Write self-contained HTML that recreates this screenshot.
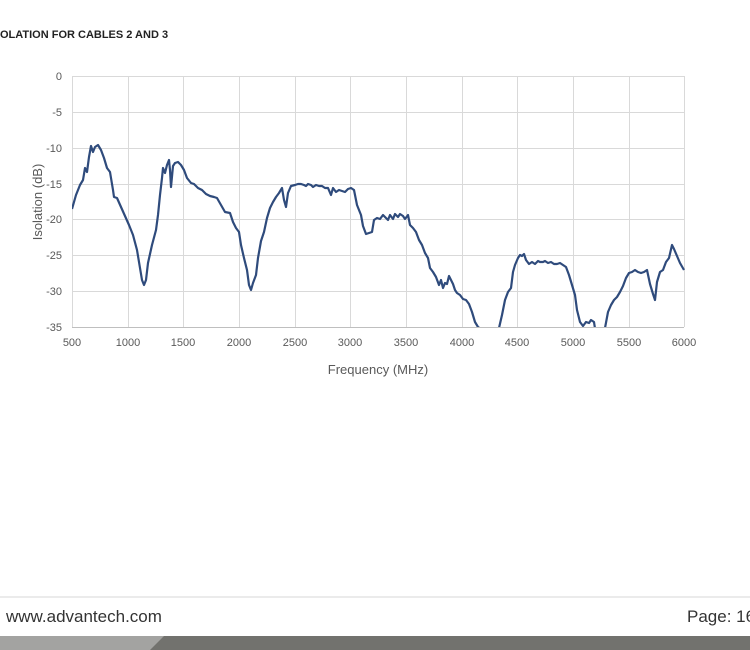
<!DOCTYPE html>
<html><head><style>
body{margin:0;width:750px;height:650px;background:#fff;overflow:hidden;position:relative;font-family:"Liberation Sans",sans-serif}
</style></head><body>
<div style="position:absolute;left:0;top:29px;font-size:11px;font-weight:bold;color:#222;">OLATION FOR CABLES 2 AND 3</div>
<svg width="750" height="600" style="position:absolute;left:0;top:0" font-family="Liberation Sans, sans-serif">
<defs><clipPath id="c"><rect x="72" y="60" width="613" height="267"/></clipPath></defs>
<g stroke="#d9d9d9" stroke-width="1">
<line x1="72" y1="76.5" x2="684" y2="76.5"/><line x1="72" y1="112.5" x2="684" y2="112.5"/><line x1="72" y1="148.5" x2="684" y2="148.5"/><line x1="72" y1="184.5" x2="684" y2="184.5"/><line x1="72" y1="219.5" x2="684" y2="219.5"/><line x1="72" y1="255.5" x2="684" y2="255.5"/><line x1="72" y1="291.5" x2="684" y2="291.5"/>
<line x1="72.5" y1="76" x2="72.5" y2="327"/><line x1="128.5" y1="76" x2="128.5" y2="327"/><line x1="183.5" y1="76" x2="183.5" y2="327"/><line x1="239.5" y1="76" x2="239.5" y2="327"/><line x1="295.5" y1="76" x2="295.5" y2="327"/><line x1="350.5" y1="76" x2="350.5" y2="327"/><line x1="406.5" y1="76" x2="406.5" y2="327"/><line x1="462.5" y1="76" x2="462.5" y2="327"/><line x1="517.5" y1="76" x2="517.5" y2="327"/><line x1="573.5" y1="76" x2="573.5" y2="327"/><line x1="629.5" y1="76" x2="629.5" y2="327"/><line x1="684.5" y1="76" x2="684.5" y2="327"/>
</g>
<line x1="72" y1="327.5" x2="684" y2="327.5" stroke="#bfbfbf"/>
<g font-size="11" fill="#595959" text-anchor="end">
<text x="62" y="80">0</text><text x="62" y="116">-5</text><text x="62" y="152">-10</text><text x="62" y="188">-15</text><text x="62" y="223">-20</text><text x="62" y="259">-25</text><text x="62" y="295">-30</text><text x="62" y="331">-35</text>
</g>
<g font-size="11" fill="#595959" text-anchor="middle">
<text x="72" y="346">500</text><text x="128" y="346">1000</text><text x="183" y="346">1500</text><text x="239" y="346">2000</text><text x="295" y="346">2500</text><text x="350" y="346">3000</text><text x="406" y="346">3500</text><text x="462" y="346">4000</text><text x="517" y="346">4500</text><text x="573" y="346">5000</text><text x="629" y="346">5500</text><text x="684" y="346">6000</text>
</g>
<text x="378" y="374" font-size="13" fill="#595959" text-anchor="middle">Frequency (MHz)</text>
<text transform="translate(42,202) rotate(-90)" font-size="13" fill="#595959" text-anchor="middle">Isolation (dB)</text>
<g clip-path="url(#c)" fill="none" stroke="#2f4b7c" stroke-width="2.2" stroke-linejoin="round">
<polyline points="72,209 76,195 80,185 83,180 85,168 87,172 89,157 91,146 93,152 95,147 98,145 101,150 104,158 107,168 110,172 113,190 114,197 117,198 121,207 125,216 129,225 133,235 137,250 140,268 142,280 144,285 146,280 148,263 152,245 156,230 158,215 160,195 162,178 163,168 165,173 167,165 169,160 170,170 171,187 173,166 175,163 178,162 181,165 184,170 187,178 191,183 194,184 198,188 202,190 206,194 210,196 214,197 217,198 221,205 225,212 230,213 233,222 236,228 239,232 241,245 244,258 247,270 249,285 251,290 253,283 256,275 258,258 261,241 264,232 267,218 270,208 273,202 276,197 279,193 282,188 284,200 286,207 288,193 291,186 295,185 298,184 301,184 304,185 306,186 308,184 311,185 313,187 316,185 319,186 322,186 325,188 328,188 331,195 333,188 336,192 339,190 342,191 345,192 348,189 351,188 354,190 357,205 361,215 363,226 366,234 369,233 372,232 374,220 377,218 380,219 383,215 386,218 388,220 390,215 393,219 395,214 398,217 400,214 403,216 405,219 408,215 410,225 413,228 416,232 419,240 422,245 425,253 428,258 430,268 433,272 436,277 439,285 441,280 443,288 445,283 447,284 449,276 451,280 453,284 455,290 457,293 460,295 463,299 466,300 469,304 472,312 475,322 478,327 481,329 484,335"/>
<polyline points="497,340 499,328 502,315 505,300 508,292 511,288 513,272 515,265 518,258 520,255 522,256 524,254 526,260 529,264 532,262 535,264 538,261 540,262 543,262 545,261 548,263 551,262 554,264 557,264 560,263 563,265 566,267 569,275 572,285 575,295 577,310 580,322 583,326 586,322 589,323 591,320 594,322 596,335"/>
<polyline points="604,340 605,328 608,312 611,305 614,300 617,297 620,292 623,286 626,278 629,273 632,272 635,270 638,272 641,273 644,272 647,270 650,284 653,294 655,300 657,282 660,272 663,270 666,262 669,258 672,245 674,249 677,256 680,263 684,270"/>
</g>
</svg>
<div style="position:absolute;left:0;top:596px;width:750px;height:2px;background:#ebebeb"></div>
<div style="position:absolute;left:6px;top:607px;font-size:17px;color:#333">www.advantech.com</div>
<div style="position:absolute;left:687px;top:607px;font-size:17px;color:#333;white-space:nowrap">Page: 16</div>
<svg width="750" height="14" style="position:absolute;left:0;top:636px">
<rect width="750" height="14" fill="#72726e"/>
<polygon points="0,0 164,0 150,14 0,14" fill="#a3a3a1"/>
</svg>
</body></html>
